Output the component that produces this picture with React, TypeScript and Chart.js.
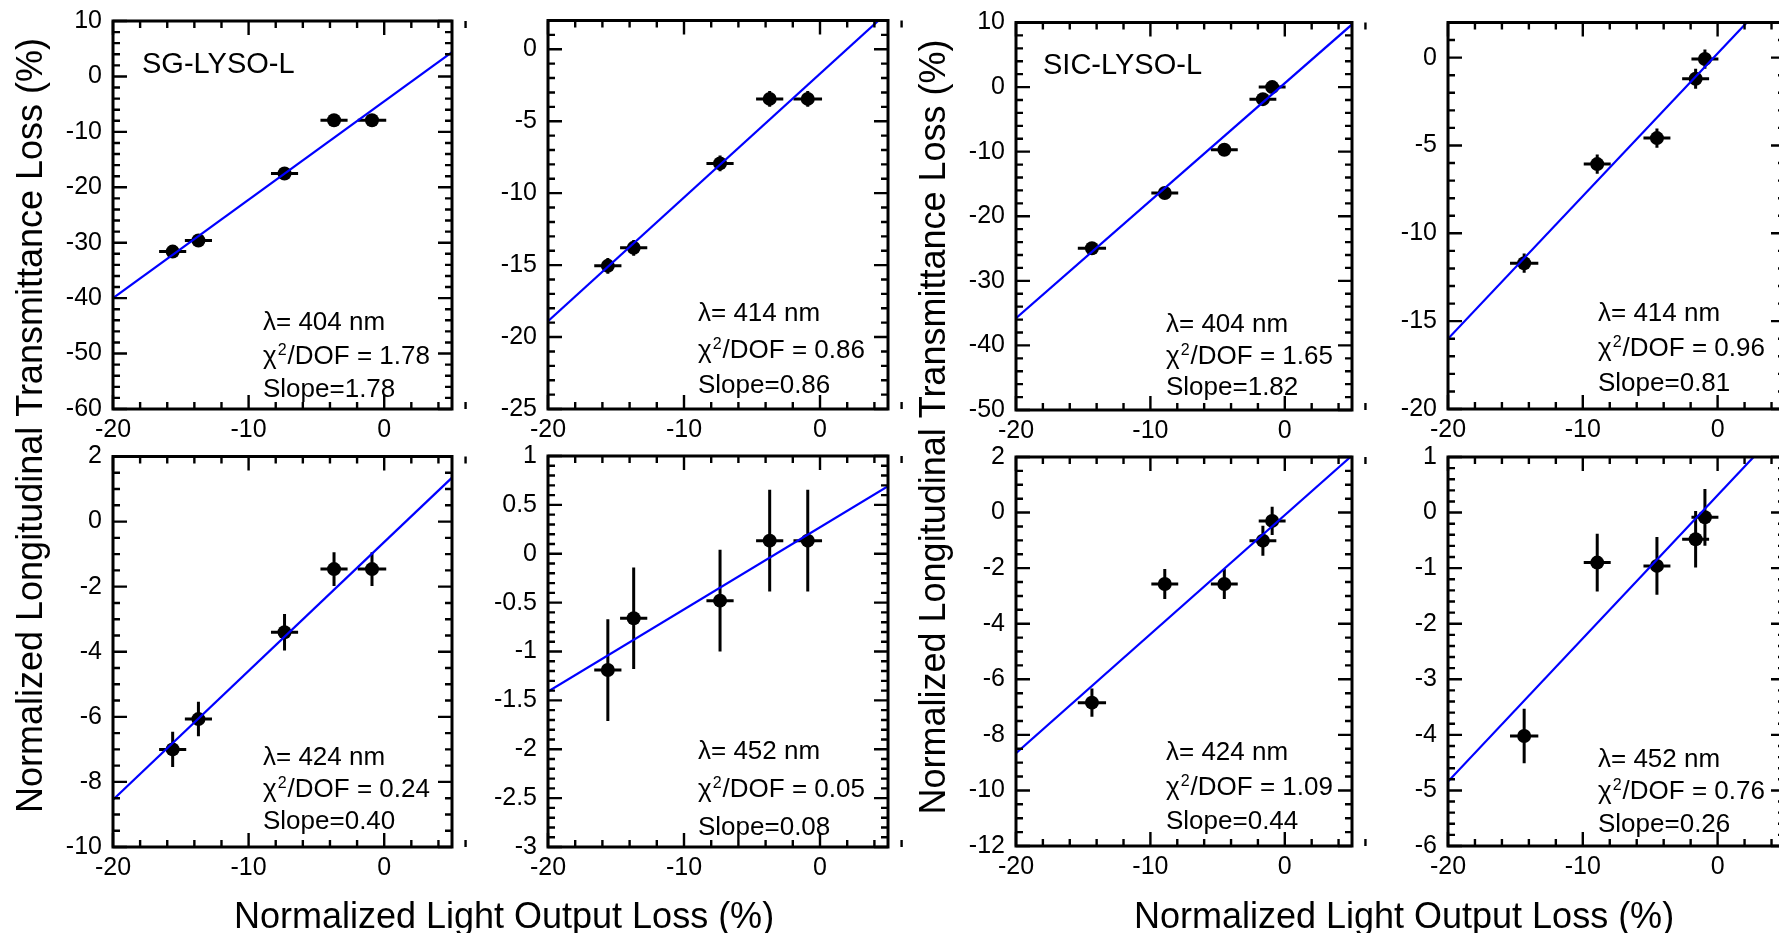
import React, { useEffect, useRef } from "react";
import { Chart, registerables } from "chart.js";

Chart.register(...registerables);

const FONT = '"Liberation Sans", Arial, Helvetica, sans-serif';
const CANVAS_W = 1800;
const CANVAS_H = 933;

// ---------------- data ----------------
const fitRangeX = [-20, 5];
const xAxisRange = [-20, 5];
const xAxisMajorTicks = [-20, -10, 0];
const xAxisMinorStep = 2;

const sgLightOutputLoss = [-15.6, -13.7, -7.35, -3.7, -0.9];
const sgLightOutputErr = [1.0, 1.0, 1.0, 1.0, 1.05];
const sicLightOutputLoss = [-14.35, -8.93, -4.5, -1.63, -0.94];
const sicLightOutputErr = [1.05, 1.0, 1.0, 1.0, 1.0];

const sg404Loss = [-31.6, -29.6, -17.5, -7.9, -7.9];
const sg404Err = [0.5, 0.5, 0.5, 0.5, 0.5];
const sg404Fit = [-40.0, 4.4];
const sg404Ticks = [10, 0, -10, -20, -30, -40, -50, -60];

const sg414Loss = [-15.05, -13.8, -7.93, -3.45, -3.45];
const sg414Err = [0.55, 0.55, 0.55, 0.55, 0.55];
const sg414Fit = [-18.9, 2.6];
const sg414Ticks = [0, -5, -10, -15, -20, -25];

const sg424Loss = [-7.0, -6.07, -3.4, -1.46, -1.46];
const sg424Err = [0.54, 0.53, 0.56, 0.52, 0.52];
const sg424Fit = [-8.55, 1.35];
const sg424Ticks = [2, 0, -2, -4, -6, -8, -10];

const sg452Loss = [-1.19, -0.66, -0.48, 0.134, 0.134];
const sg452Err = [0.52, 0.52, 0.52, 0.52, 0.52];
const sg452Fit = [-1.41, 0.69];
const sg452Ticks = [1, 0.5, 0, -0.5, -1, -1.5, -2, -2.5, -3];

const sic404Loss = [-24.95, -16.4, -9.7, -1.87, 0.0];
const sic404Err = [0.5, 0.5, 0.5, 0.5, 0.5];
const sic404Fit = [-35.8, 9.7];
const sic404Ticks = [10, 0, -10, -20, -30, -40, -50];

const sic414Loss = [-11.7, -6.06, -4.58, -1.2, -0.08];
const sic414Err = [0.55, 0.55, 0.55, 0.57, 0.55];
const sic414Fit = [-16.0, 4.3];
const sic414Ticks = [0, -5, -10, -15, -20];

const sic424Loss = [-6.84, -2.57, -2.57, -1.01, -0.3];
const sic424Err = [0.51, 0.54, 0.54, 0.54, 0.51];
const sic424Fit = [-8.66, 2.05];
const sic424Ticks = [2, 0, -2, -4, -6, -8, -10, -12];

const sic452Loss = [-4.02, -0.9, -0.96, -0.48, -0.085];
const sic452Err = [0.49, 0.52, 0.52, 0.51, 0.51];
const sic452Fit = [-4.84, 1.6];
const sic452Ticks = [1, 0, -1, -2, -3, -4, -5, -6];

const yAxisTitle = "Normalized Longitudinal Transmittance Loss (%)";
const xAxisTitle = "Normalized Light Output Loss (%)";

// ---------------- panel layout ----------------
type Panel = {
  tag?: string;
  x: number[];
  xErr: number[];
  y: number[];
  yErr: number[];
  fit: number[];
  yRange: number[];
  yTicks: number[];
  yMinor: number;
  wavelength: string;
  chi2: string;
  slope: string;
  box: number[]; // left, top, right, bottom
  textY: number[];
  tagOffset?: number[];
};

const panels: Panel[] = [
  { tag: "SG-LYSO-L", x: sgLightOutputLoss, xErr: sgLightOutputErr, y: sg404Loss, yErr: sg404Err, fit: sg404Fit,
    yRange: [-60, 10], yTicks: sg404Ticks, yMinor: 2, wavelength: "404", chi2: "1.78", slope: "1.78",
    box: [113, 21, 452, 409], textY: [323, 357, 390], tagOffset: [29, 44] },
  { x: sgLightOutputLoss, xErr: sgLightOutputErr, y: sg414Loss, yErr: sg414Err, fit: sg414Fit,
    yRange: [-25, 2], yTicks: sg414Ticks, yMinor: 1, wavelength: "414", chi2: "0.86", slope: "0.86",
    box: [548, 20.5, 888, 409], textY: [314, 351, 386] },
  { tag: "SIC-LYSO-L", x: sicLightOutputLoss, xErr: sicLightOutputErr, y: sic404Loss, yErr: sic404Err, fit: sic404Fit,
    yRange: [-50, 10], yTicks: sic404Ticks, yMinor: 2, wavelength: "404", chi2: "1.65", slope: "1.82",
    box: [1016, 22.5, 1352, 410], textY: [325, 357, 388], tagOffset: [27, 43] },
  { x: sicLightOutputLoss, xErr: sicLightOutputErr, y: sic414Loss, yErr: sic414Err, fit: sic414Fit,
    yRange: [-20, 2], yTicks: sic414Ticks, yMinor: 1, wavelength: "414", chi2: "0.96", slope: "0.81",
    box: [1448, 22.5, 1785, 409], textY: [314, 349, 384] },
  { x: sgLightOutputLoss, xErr: sgLightOutputErr, y: sg424Loss, yErr: sg424Err, fit: sg424Fit,
    yRange: [-10, 2], yTicks: sg424Ticks, yMinor: 0.5, wavelength: "424", chi2: "0.24", slope: "0.40",
    box: [113, 456.5, 452, 847], textY: [758, 790, 822] },
  { x: sgLightOutputLoss, xErr: sgLightOutputErr, y: sg452Loss, yErr: sg452Err, fit: sg452Fit,
    yRange: [-3, 1], yTicks: sg452Ticks, yMinor: 0.1, wavelength: "452", chi2: "0.05", slope: "0.08",
    box: [548, 456, 888, 847], textY: [752, 790, 828] },
  { x: sicLightOutputLoss, xErr: sicLightOutputErr, y: sic424Loss, yErr: sic424Err, fit: sic424Fit,
    yRange: [-12, 2], yTicks: sic424Ticks, yMinor: 0.5, wavelength: "424", chi2: "1.09", slope: "0.44",
    box: [1016, 457, 1352, 846], textY: [753, 788, 822] },
  { x: sicLightOutputLoss, xErr: sicLightOutputErr, y: sic452Loss, yErr: sic452Err, fit: sic452Fit,
    yRange: [-6, 1], yTicks: sic452Ticks, yMinor: 0.2, wavelength: "452", chi2: "0.76", slope: "0.26",
    box: [1448, 457, 1785, 846], textY: [760, 792, 825] },
];

const yTitlePos = [[42, 425.5], [945, 427]];
const xTitlePos = [[504, 928], [1404, 928]];

const near = (v: number, arr: number[]) => arr.some((a) => Math.abs(a - v) < 1e-6);
const fmt = (v: number) => String(Math.round(v * 1000) / 1000);

function makeRootPlugin(p: Panel, drawTitles: boolean) {
  return {
    id: "rootStyle",
    beforeDatasetsDraw(chart: any) {
      const ctx = chart.ctx;
      const xs = chart.scales.x;
      const ys = chart.scales.y;
      ctx.save();
      ctx.strokeStyle = "#000";
      ctx.lineWidth = 3;
      ctx.lineCap = "butt";
      ctx.beginPath();
      p.x.forEach((xv, i) => {
        const px = xs.getPixelForValue(xv);
        const py = ys.getPixelForValue(p.y[i]);
        ctx.moveTo(xs.getPixelForValue(xv - p.xErr[i]), py);
        ctx.lineTo(xs.getPixelForValue(xv + p.xErr[i]), py);
        ctx.moveTo(px, ys.getPixelForValue(p.y[i] - p.yErr[i]));
        ctx.lineTo(px, ys.getPixelForValue(p.y[i] + p.yErr[i]));
      });
      ctx.stroke();
      ctx.restore();
    },
    afterDraw(chart: any) {
      const ctx = chart.ctx;
      const xs = chart.scales.x;
      const ys = chart.scales.y;
      const { left, right, top, bottom } = chart.chartArea;
      ctx.save();
      ctx.strokeStyle = "#000";
      ctx.fillStyle = "#000";

      // ticks (all four sides, pointing inward)
      ctx.lineWidth = 2.4;
      ctx.beginPath();
      const nX = Math.round((xAxisRange[1] - xAxisRange[0]) / xAxisMinorStep);
      for (let k = 0; k <= nX; k++) {
        const v = xAxisRange[0] + k * xAxisMinorStep;
        const px = xs.getPixelForValue(v);
        const len = near(v, xAxisMajorTicks) ? 14 : 7;
        ctx.moveTo(px, bottom);
        ctx.lineTo(px, bottom - len);
        ctx.moveTo(px, top);
        ctx.lineTo(px, top + len);
      }
      const nY = Math.round((p.yRange[1] - p.yRange[0]) / p.yMinor);
      for (let k = 0; k <= nY; k++) {
        const v = p.yRange[0] + k * p.yMinor;
        const py = ys.getPixelForValue(v);
        const len = near(v, p.yTicks) ? 14 : 7;
        ctx.moveTo(left, py);
        ctx.lineTo(left + len, py);
        ctx.moveTo(right, py);
        ctx.lineTo(right - len, py);
      }
      ctx.stroke();

      // frame
      ctx.lineWidth = 3;
      ctx.strokeRect(left, top, right - left, bottom - top);

      // tick labels
      ctx.font = `25px ${FONT}`;
      ctx.textAlign = "right";
      ctx.textBaseline = "middle";
      p.yTicks.forEach((v) => ctx.fillText(fmt(v), left - 11, ys.getPixelForValue(v)));
      ctx.textAlign = "center";
      ctx.textBaseline = "alphabetic";
      xAxisMajorTicks.forEach((v) => ctx.fillText(fmt(v), xs.getPixelForValue(v), bottom + 28));

      // crystal tag
      if (p.tag && p.tagOffset) {
        ctx.font = `29px ${FONT}`;
        ctx.textAlign = "left";
        ctx.textBaseline = "middle";
        ctx.fillText(p.tag, left + p.tagOffset[0], top + p.tagOffset[1]);
      }

      // fit annotations
      const x0 = left + 150;
      ctx.font = `26px ${FONT}`;
      ctx.textAlign = "left";
      ctx.textBaseline = "middle";
      ctx.fillText(`\u03bb= ${p.wavelength} nm`, x0, p.textY[0]);
      ctx.fillText("\u03c7", x0, p.textY[1]);
      const wChi = ctx.measureText("\u03c7").width;
      ctx.font = `16px ${FONT}`;
      ctx.textBaseline = "alphabetic";
      ctx.fillText("2", x0 + wChi + 1, p.textY[1] - 2);
      const wTwo = ctx.measureText("2").width;
      ctx.font = `26px ${FONT}`;
      ctx.textBaseline = "middle";
      ctx.fillText(`/DOF = ${p.chi2}`, x0 + wChi + wTwo + 2, p.textY[1]);
      ctx.fillText(`Slope=${p.slope}`, x0, p.textY[2]);

      if (drawTitles) {
        ctx.font = `36px ${FONT}`;
        ctx.textAlign = "center";
        ctx.textBaseline = "alphabetic";
        yTitlePos.forEach(([tx, ty]) => {
          ctx.save();
          ctx.translate(tx, ty);
          ctx.rotate(-Math.PI / 2);
          ctx.fillText(yAxisTitle, 0, 0);
          ctx.restore();
        });
        xTitlePos.forEach(([tx, ty]) => ctx.fillText(xAxisTitle, tx, ty));
      }
      ctx.restore();
    },
  };
}

function PanelChart({ panel, drawTitles }: { panel: Panel; drawTitles: boolean }) {
  const ref = useRef<HTMLCanvasElement>(null);
  useEffect(() => {
    const canvas = ref.current;
    if (!canvas) return;
    const [l, t, r, b] = panel.box;
    const chart = new Chart(canvas, {
      type: "scatter",
      data: {
        datasets: [
          {
            data: fitRangeX.map((x, i) => ({ x, y: panel.fit[i] })),
            showLine: true,
            borderColor: "#0000ff",
            backgroundColor: "#0000ff",
            borderWidth: 2.2,
            pointRadius: 0,
            order: 0,
          } as any,
          {
            data: panel.x.map((x, i) => ({ x, y: panel.y[i] })),
            backgroundColor: "#000000",
            borderColor: "#000000",
            pointRadius: 7,
            pointBorderWidth: 0,
            order: 1,
          } as any,
        ],
      },
      options: {
        responsive: false,
        animation: false,
        devicePixelRatio: 1,
        events: [],
        layout: { padding: { left: l, top: t, right: CANVAS_W - r, bottom: CANVAS_H - b } },
        plugins: { legend: { display: false }, tooltip: { enabled: false }, title: { display: false } },
        scales: {
          x: { type: "linear", min: xAxisRange[0], max: xAxisRange[1], display: false },
          y: { type: "linear", min: panel.yRange[0], max: panel.yRange[1], display: false },
        },
      } as any,
      plugins: [makeRootPlugin(panel, drawTitles) as any],
    });
    return () => chart.destroy();
  }, [panel, drawTitles]);
  return (
    <canvas
      ref={ref}
      width={CANVAS_W}
      height={CANVAS_H}
      style={{ position: "absolute", left: 0, top: 0, width: CANVAS_W, height: CANVAS_H }}
    />
  );
}

export default function App() {
  return (
    <div
      style={{
        position: "absolute",
        left: 0,
        top: 0,
        width: 1779,
        height: 933,
        overflow: "hidden",
        background: "#ffffff",
      }}
    >
      {panels.map((p, i) => (
        <PanelChart key={i} panel={p} drawTitles={i === 0} />
      ))}
    </div>
  );
}
